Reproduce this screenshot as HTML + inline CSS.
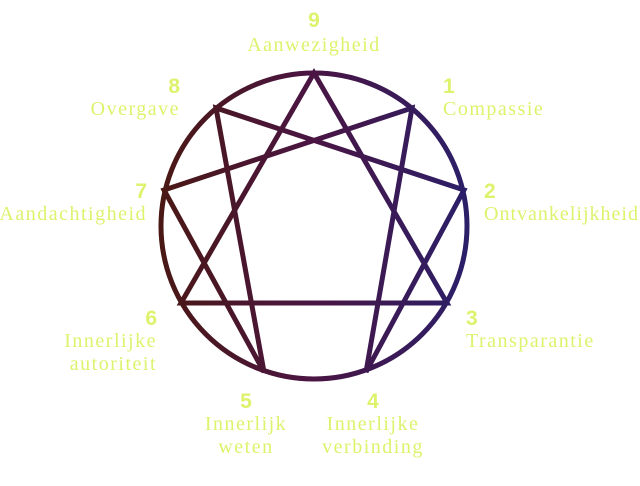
<!DOCTYPE html>
<html><head><style>
body{margin:0;background:#fff;}
</style></head><body>
<svg width="640" height="481" viewBox="0 0 640 481" xmlns="http://www.w3.org/2000/svg">
<defs>
<linearGradient id="g" x1="160" y1="0" x2="467" y2="0" gradientUnits="userSpaceOnUse">
<stop offset="0" stop-color="#4a1814"/>
<stop offset="0.5" stop-color="#4a1543"/>
<stop offset="1" stop-color="#2b1f68"/>
</linearGradient>
</defs>
<g fill="none" stroke="url(#g)" stroke-width="5" stroke-linejoin="miter">
<circle cx="314" cy="226" r="153"/>
<polygon points="314,73 447,303 181,303"/>
<polygon points="412,108 366,372 464,190 216,108 264,372 164,190"/>
</g>
<g fill="#def26c" font-family="Liberation Sans, sans-serif" font-weight="bold" font-size="21">
<text x="314" y="27" text-anchor="middle">9</text>
<text x="443" y="93">1</text>
<text x="484" y="198">2</text>
<text x="466" y="325">3</text>
<text x="373" y="408" text-anchor="middle">4</text>
<text x="246" y="408" text-anchor="middle">5</text>
<text x="157" y="325" text-anchor="end">6</text>
<text x="147" y="198" text-anchor="end">7</text>
<text x="180" y="93" text-anchor="end">8</text>
</g>
<g fill="#def26c" font-family="Liberation Serif, serif" font-size="20" letter-spacing="1.5">
<text x="314" y="51" text-anchor="middle">Aanwezigheid</text>
<text x="443" y="115">Compassie</text>
<text x="484" y="220" letter-spacing="0" textLength="154" lengthAdjust="spacing">Ontvankelijkheid</text>
<text x="466" y="347">Transparantie</text>
<text x="373" y="430" text-anchor="middle">Innerlijke</text>
<text x="373" y="453" text-anchor="middle">verbinding</text>
<text x="246" y="430" text-anchor="middle">Innerlijk</text>
<text x="246" y="453" text-anchor="middle">weten</text>
<text x="157" y="347" text-anchor="end">Innerlijke</text>
<text x="157" y="370" text-anchor="end">autoriteit</text>
<text x="147" y="220" text-anchor="end">Aandachtigheid</text>
<text x="180" y="115" text-anchor="end">Overgave</text>
</g>
</svg>
</body></html>
